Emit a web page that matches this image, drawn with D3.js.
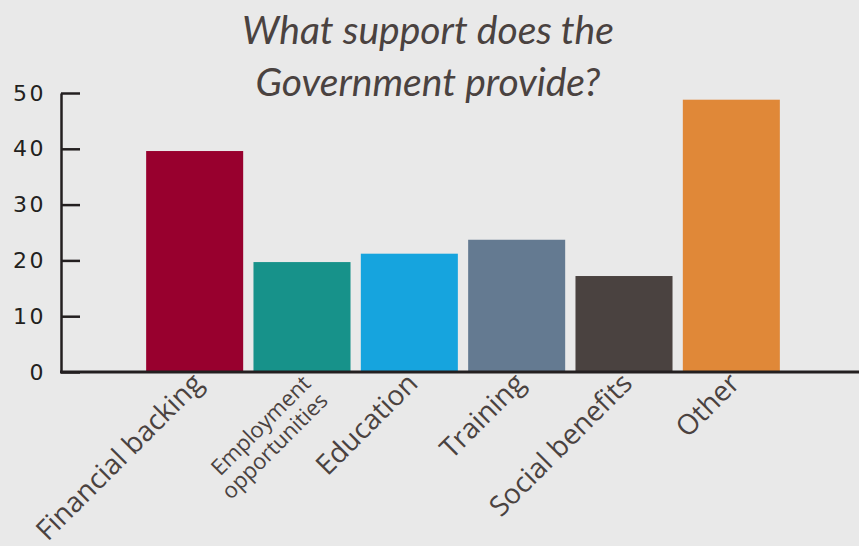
<!DOCTYPE html>
<html>
<head>
<meta charset="utf-8">
<script src="https://cdn.jsdelivr.net/npm/d3@7"></script>
<style>
  body { margin: 0; background: #e9e9e9; }
  svg { display: block; }
  .tick text { font-family: "DejaVu Sans", sans-serif; font-size: 22px; fill: #231f20; letter-spacing: 2.5px; }
  .cat { font-family: "Open Sans", sans-serif; fill: #4a4240; }
  .title { font-family: "Lato", sans-serif; font-style: italic; font-size: 39px; fill: #4a4240; }
</style>
</head>
<body>
<svg id="chart" width="859" height="546"></svg>
<script>
var categories = ["Financial backing", "Employment opportunities", "Education", "Training", "Social benefits", "Other"];
var values = [39.6, 19.7, 21.2, 23.7, 17.2, 48.8];
var colors = ["#98002e", "#17928a", "#16a4de", "#647a91", "#4a4240", "#e08838"];
var yTicks = [0, 10, 20, 30, 40, 50];
var titleLines = ["What support does the", "Government provide?"];

var svg = d3.select("#chart");

var x = d3.scaleBand()
  .domain(categories)
  .range([141, 785])
  .paddingInner(0.096)
  .paddingOuter(0.048);

var y = d3.scaleLinear()
  .domain([0, 50])
  .range([372, 93]);

// title
svg.append("text")
  .attr("class", "title")
  .attr("text-anchor", "middle")
  .selectAll("tspan")
  .data(titleLines)
  .enter().append("tspan")
  .attr("x", 428)
  .attr("y", function(d, i) { return 44 + i * 52; })
  .text(function(d) { return d; });

// bars
svg.selectAll(".bar")
  .data(values)
  .enter().append("rect")
  .attr("class", "bar")
  .attr("x", function(d, i) { return x(categories[i]); })
  .attr("width", x.bandwidth())
  .attr("y", function(d) { return y(d); })
  .attr("height", function(d) { return y(0) - y(d); })
  .attr("fill", function(d, i) { return colors[i]; });

// y axis, ticks pointing into the plot
var yAxis = svg.append("g")
  .attr("transform", "translate(61,0)")
  .call(d3.axisLeft(y).tickValues(yTicks).tickSizeInner(-19).tickSizeOuter(0).tickPadding(15));
yAxis.select(".domain").attr("stroke", "#231f20").attr("stroke-width", 2.5);
yAxis.selectAll(".tick line").attr("stroke", "#231f20").attr("stroke-width", 2.5);

// baseline
svg.append("line")
  .attr("x1", 60).attr("x2", 859)
  .attr("y1", y(0)).attr("y2", y(0))
  .attr("stroke", "#231f20")
  .attr("stroke-width", 3);

// category labels rotated
var labels = svg.selectAll(".cat")
  .data(categories)
  .enter().append("text")
  .attr("class", "cat")
  .attr("text-anchor", "end")
  .attr("transform", function(d) {
    return "translate(" + (x(d) + x.bandwidth() / 2 + 10) + "," + (y(0) + 13) + ") rotate(-45)";
  })
  .style("font-size", function(d) { return d.indexOf(" opp") > 0 ? "22px" : "28px"; });

labels.each(function(d) {
  var t = d3.select(this);
  if (d === "Employment opportunities") {
    t.append("tspan").attr("x", 0).attr("dy", 0).text("Employment");
    t.append("tspan").attr("x", 0).attr("dy", "1.1em").text("opportunities");
  } else {
    t.text(d);
  }
});
</script>
</body>
</html>
